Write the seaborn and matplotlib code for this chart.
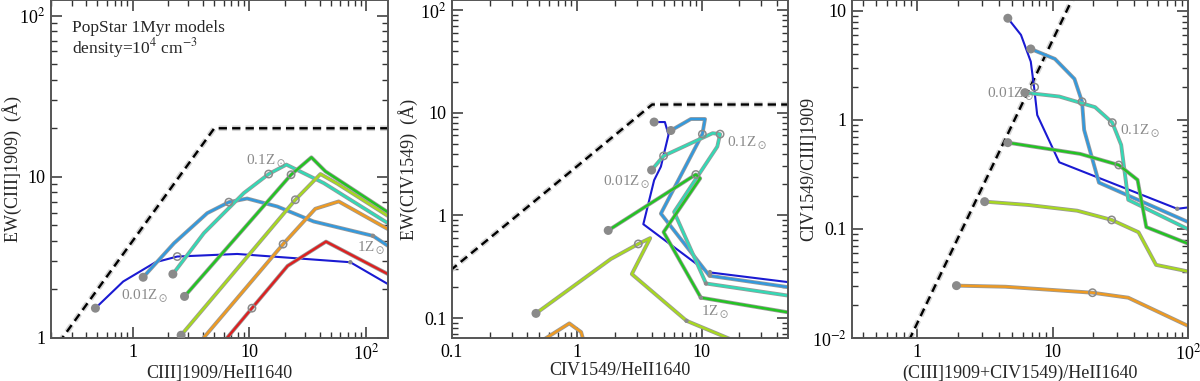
import numpy as np
import pandas as pd
import matplotlib
matplotlib.use("Agg")
import matplotlib.pyplot as plt
import matplotlib.patheffects as pe
import seaborn as sns

# ---- panel 1: EW(CIII]) vs CIII]/HeII ----
p1_blue_x = [0.48, 0.83, 1.57, 2.41, 7.85, 73, 160]
p1_blue_y = [1.53, 2.24, 2.95, 3.2, 3.32, 2.95, 2.12]
p1_lblue_x = [1.23, 2.26, 4.35, 6.66, 9.55, 17.3, 35.4, 114, 160]
p1_lblue_y = [2.38, 3.87, 5.95, 6.96, 7.33, 6.54, 5.28, 4.3, 3.65]
p1_turq_x = [2.21, 4.07, 8.94, 14.6, 20.7, 43.2, 160]
p1_turq_y = [2.49, 4.47, 7.92, 10.4, 11.9, 9.14, 5.05]
p1_green_x = [2.78, 22.7, 33.9, 44.7, 160]
p1_green_y = [1.81, 10.3, 13.2, 10.8, 5.9]
p1_yg_x = [2.6, 24.7, 40.5, 56, 160]
p1_yg_y = [1.04, 7.2, 10.4, 9.1, 5.6]
p1_orange_x = [3.9, 19.4, 36.6, 58, 160]
p1_orange_y = [0.97, 3.82, 6.33, 7.03, 4.65]
p1_red_x = [6.2, 10.5, 21.2, 45.2, 160]
p1_red_y = [0.97, 1.53, 2.8, 3.96, 2.45]
p1_limit_x = [0.2, 5.0, 200]
p1_limit_y = [0.8, 20, 20]
p1_filled_x = [0.48, 1.23, 2.21, 2.78, 2.6]
p1_filled_y = [1.53, 2.38, 2.49, 1.81, 1.04]
p1_open_x = [2.41, 6.66, 14.6, 22.7, 24.7, 19.4, 10.5]
p1_open_y = [3.2, 6.96, 10.4, 10.3, 7.2, 3.82, 1.53]
p1_small_x = [73, 114]
p1_small_y = [2.95, 4.3]

# ---- panel 2: EW(CIV) vs CIV/HeII ----
p2_blue_x = [4.15, 5.06, 5.41, 4.7, 4.15, 3.4, 11.1, 55]
p2_blue_y = [8.1, 8.1, 6.09, 2.98, 2.2, 0.82, 0.28, 0.22]
p2_lblue_x = [5.65, 8.17, 10.6, 10.1, 4.7, 11.5, 55]
p2_lblue_y = [6.7, 8.67, 8.67, 6.18, 1.04, 0.258, 0.196]
p2_turq_x = [3.96, 4.94, 12.2, 14.0, 13.3, 6.0, 10.8, 55]
p2_turq_y = [2.76, 3.79, 6.31, 6.18, 4.67, 1.08, 0.217, 0.162]
p2_green_x = [1.78, 8.95, 9.7, 4.94, 9.82, 55]
p2_green_y = [0.713, 2.5, 2.29, 0.687, 0.158, 0.111]
p2_yg_x = [0.47, 1.87, 3.1, 3.86, 2.75, 7.54, 17.1, 25]
p2_yg_y = [0.111, 0.376, 0.527, 0.6, 0.268, 0.094, 0.062, 0.055]
p2_orange_x = [0.5, 0.869, 1.08, 1.13]
p2_orange_y = [0.058, 0.0887, 0.073, 0.06]
p2_limit_x = [0.08, 4.0, 60]
p2_limit_y = [0.24, 12, 12]
p2_filled_x = [4.15, 5.65, 3.96, 1.78, 0.47]
p2_filled_y = [8.1, 6.7, 2.76, 0.713, 0.111]
p2_open_x = [10.1, 4.94, 14.0, 8.95, 3.1]
p2_open_y = [6.18, 3.79, 6.18, 2.5, 0.527]
p2_small_x = [11.6, 11.6, 10.8, 9.82, 7.54]
p2_small_y = [0.28, 0.26, 0.217, 0.158, 0.094]

# ---- panel 3: CIV/CIII] vs (CIII]+CIV)/HeII ----
p3_blue_x = [4.67, 5.84, 6.9, 7.29, 7.7, 11.2, 83.3, 110]
p3_blue_y = [8.57, 6.03, 3.43, 2.02, 1.11, 0.409, 0.153, 0.16]
p3_lblue_x = [6.9, 10.4, 14.5, 16.5, 17.1, 22.0, 110]
p3_lblue_y = [4.48, 3.63, 2.38, 1.47, 0.81, 0.266, 0.11]
p3_turq_x = [6.24, 11.2, 20.6, 27.6, 32.1, 36.2, 110]
p3_turq_y = [1.78, 1.64, 1.31, 0.945, 0.59, 0.185, 0.094]
p3_green_x = [4.67, 16, 30.8, 42.4, 49.2, 110]
p3_green_y = [0.619, 0.488, 0.386, 0.282, 0.104, 0.07]
p3_yg_x = [3.15, 6.6, 15.2, 27.3, 43.1, 58.1, 110]
p3_yg_y = [0.178, 0.166, 0.147, 0.121, 0.0933, 0.0468, 0.0398]
p3_orange_x = [1.95, 4.48, 19.7, 36.2, 110]
p3_orange_y = [0.0302, 0.0295, 0.026, 0.0234, 0.0122]
p3_limit_x = [0.87, 14.0]
p3_limit_y = [0.0095, 12.9]
p3_filled_x = [4.67, 6.9, 6.24, 4.67, 3.15, 1.95]
p3_filled_y = [8.57, 4.48, 1.78, 0.619, 0.178, 0.0302]
p3_open_x = [7.37, 16.5, 27.6, 30.8, 27.3, 19.7]
p3_open_y = [2.0, 1.47, 0.945, 0.386, 0.121, 0.026]
p3_small_x = [83.3]
p3_small_y = [0.153]

colors = {"blue": "#1a1ad2", "lblue": "#3399dd", "turq": "#33d9b5",
          "green": "#22c422", "yg": "#a8d820", "orange": "#ee9a22", "red": "#dd2020"}

sns.set_theme(style="ticks")
plt.rcParams['font.family'] = ['Liberation Serif', 'DejaVu Serif']
plt.rcParams['mathtext.fontset'] = 'stix'

fig = plt.figure(figsize=(12, 3.81), dpi=100)
ax1 = fig.add_axes([0.0425, 0.113, 0.281, 0.887])
ax2 = fig.add_axes([0.3767, 0.113, 0.280, 0.887])
ax3 = fig.add_axes([0.710, 0.113, 0.280, 0.887])

gray = "#8a8a8a"


def draw_panel(ax, tracks, limit, filled, opened, small):
    ax.set_xscale("log")
    ax.set_yscale("log")
    # dashed limit with light gray underlay
    lim = pd.DataFrame({"x": limit[0], "y": limit[1]})
    sns.lineplot(data=lim, x="x", y="y", ax=ax, sort=False, estimator=None,
                 color="black", lw=1.7, linestyle=(0, (3.5, 2.2)),
                 path_effects=[pe.Stroke(linewidth=4, foreground="#d4d4d4"), pe.Normal()])
    for name, (xs, ys) in tracks.items():
        df = pd.DataFrame({"x": xs, "y": ys})
        lw = 1.5 if name == "blue" else 1.7
        fx = [pe.Normal()] if name == "blue" else [pe.Stroke(linewidth=2.8, foreground="#9a9a9a"), pe.Normal()]
        sns.lineplot(data=df, x="x", y="y", ax=ax, sort=False, estimator=None,
                     color=colors[name], lw=lw, path_effects=fx)
    sns.scatterplot(x=filled[0], y=filled[1], ax=ax, s=42, color=gray, edgecolor="none", zorder=5)
    sns.scatterplot(x=opened[0], y=opened[1], ax=ax, s=28, facecolor="none",
                    edgecolor=gray, linewidth=1.1, zorder=5)
    sns.scatterplot(x=small[0], y=small[1], ax=ax, s=10, color=gray, edgecolor="none", zorder=5)
    ax.tick_params(which="both", direction="in", top=True, right=True, colors="#333",
                   labelsize=13, labelcolor="black", pad=4)
    ax.tick_params(which="major", length=8, width=1.1)
    ax.tick_params(which="minor", length=4, width=1.0)
    for s in ax.spines.values():
        s.set_color("#555")
        s.set_linewidth(1.4)


draw_panel(ax1,
           {"blue": (p1_blue_x, p1_blue_y), "lblue": (p1_lblue_x, p1_lblue_y),
            "turq": (p1_turq_x, p1_turq_y), "green": (p1_green_x, p1_green_y),
            "yg": (p1_yg_x, p1_yg_y), "orange": (p1_orange_x, p1_orange_y),
            "red": (p1_red_x, p1_red_y)},
           (p1_limit_x, p1_limit_y), (p1_filled_x, p1_filled_y),
           (p1_open_x, p1_open_y), (p1_small_x, p1_small_y))
ax1.set_xlim(0.2, 154)
ax1.set_ylim(1, 125)
ax1.set_xticks([1, 10, 100], ["1", "10", "10$^2$"])
ax1.set_yticks([1, 10, 100], ["1", "10", "10$^2$"])
ax1.set_xlabel("CIII]1909/HeII1640", fontsize=13, labelpad=1)
ax1.set_ylabel("EW(CIII]1909)  (Å)", fontsize=13)
ax1.yaxis.set_label_coords(-0.085, 0.5)
ax1.text(0.062, 0.917, "PopStar 1Myr models", transform=ax1.transAxes, fontsize=12.5, va="center")
ax1.text(0.062, 0.858, "density=10$^4$ cm$^{-3}$", transform=ax1.transAxes, fontsize=12.5, va="center")
ax1.text(0.79, 1.8, r"0.01Z$_\odot$", color=gray, fontsize=11, va="center")
ax1.text(9.25, 12.4, r"0.1Z$_\odot$", color=gray, fontsize=11, va="center")
ax1.text(84, 3.57, r"1Z$_\odot$", color=gray, fontsize=11, va="center")

draw_panel(ax2,
           {"blue": (p2_blue_x, p2_blue_y), "lblue": (p2_lblue_x, p2_lblue_y),
            "turq": (p2_turq_x, p2_turq_y), "green": (p2_green_x, p2_green_y),
            "yg": (p2_yg_x, p2_yg_y), "orange": (p2_orange_x, p2_orange_y)},
           (p2_limit_x, p2_limit_y), (p2_filled_x, p2_filled_y),
           (p2_open_x, p2_open_y), (p2_small_x, p2_small_y))
ax2.set_xlim(0.1, 49)
ax2.set_ylim(0.064, 125)
ax2.set_xticks([0.1, 1, 10], ["0.1", "1", "10"])
ax2.set_yticks([0.1, 1, 10, 100], ["0.1", "1", "10", "10$^2$"])
ax2.set_xlabel("CIV1549/HeII1640", fontsize=13, labelpad=1)
ax2.set_ylabel("EW(CIV1549)  (Å)", fontsize=13)
ax2.yaxis.set_label_coords(-0.10, 0.5)
ax2.text(1.61, 2.07, r"0.01Z$_\odot$", color=gray, fontsize=11, va="center")
ax2.text(15.8, 4.97, r"0.1Z$_\odot$", color=gray, fontsize=11, va="center")
ax2.text(9.8, 0.113, r"1Z$_\odot$", color=gray, fontsize=11, va="center")

draw_panel(ax3,
           {"blue": (p3_blue_x, p3_blue_y), "lblue": (p3_lblue_x, p3_lblue_y),
            "turq": (p3_turq_x, p3_turq_y), "green": (p3_green_x, p3_green_y),
            "yg": (p3_yg_x, p3_yg_y), "orange": (p3_orange_x, p3_orange_y)},
           (p3_limit_x, p3_limit_y), (p3_filled_x, p3_filled_y),
           (p3_open_x, p3_open_y), (p3_small_x, p3_small_y))
ax3.set_xlim(0.33, 100)
ax3.set_ylim(0.01, 12.6)
ax3.set_xticks([1, 10, 100], ["1", "10", "10$^2$"])
ax3.set_yticks([0.01, 0.1, 1, 10], ["10$^{-2}$", "0.1", "1", "10"])
ax3.set_xlabel("(CIII]1909+CIV1549)/HeII1640", fontsize=13, labelpad=1)
ax3.set_ylabel("CIV1549/CIII]1909", fontsize=13)
ax3.yaxis.set_label_coords(-0.104, 0.5)
ax3.text(3.28, 1.7, r"0.01Z$_\odot$", color=gray, fontsize=11, va="center")
ax3.text(31.5, 0.78, r"0.1Z$_\odot$", color=gray, fontsize=11, va="center")

fig.savefig("out.png", dpi=100)
